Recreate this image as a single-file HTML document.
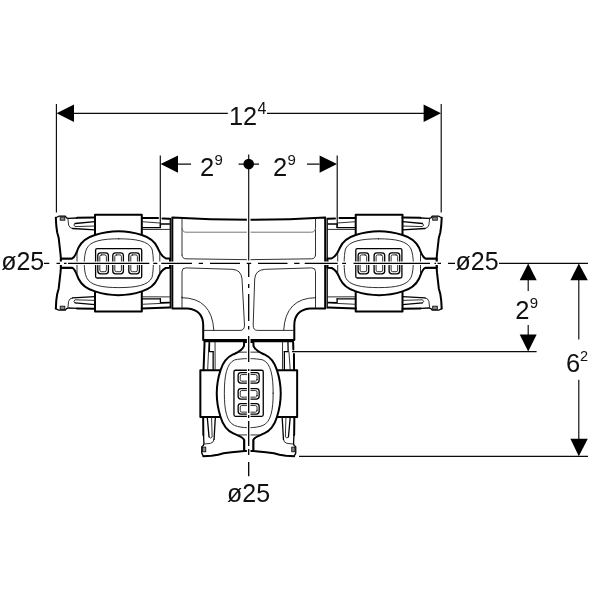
<!DOCTYPE html>
<html><head><meta charset="utf-8">
<style>
html,body{margin:0;padding:0;background:#fff;}
body{width:600px;height:600px;overflow:hidden;}
svg{display:block;filter:grayscale(1);}
text{font-family:"Liberation Sans",sans-serif;fill:#111;}
.t{stroke:#000;stroke-width:2;fill:none;stroke-linejoin:round;stroke-linecap:round}
.m{stroke:#000;stroke-width:1.3;fill:none;stroke-linejoin:round;stroke-linecap:round}
.n{stroke:#1a1a1a;stroke-width:0.9;fill:none;stroke-linejoin:round;stroke-linecap:round}
.g{stroke:#666;stroke-width:0.9;fill:none}
.d{stroke:#0a0a0a;stroke-width:1.15;fill:none}
.c{stroke:#000;stroke-width:1.3;fill:none}
.w{fill:#fff}
</style></head>
<body>
<svg width="600" height="600" viewBox="0 0 600 600">
<rect width="600" height="600" fill="#fff"/>
<defs>
<g id="conn">
  <!-- clamp -->
  <rect class="t w" x="95" y="214.8" width="46.8" height="96.8"/>
  <!-- left wall + top/bottom edges -->
  <path class="t" d="M95,217.6 L77,217.8 M55.8,217.8 L56.3,226.0 L57.2,232.5 L58.7,238.0 L59.6,246.0 L60.5,254.0 L60.9,258.7 L72,258.7"/>
  <path class="m" d="M77.0,218.0 L68.5,218.4 L66.5,217.8 L65.3,216.2 L58.8,216.2 L55.8,217.8"/>
  <path class="t" d="M95,308.8 L77,308.6 M55.8,308.6 L56.3,300.4 L57.2,293.9 L58.7,288.4 L59.6,280.4 L60.5,272.4 L60.9,267.7 L72,267.7"/>
  <path class="m" d="M77.0,308.4 L68.5,308.0 L66.5,308.6 L65.3,310.2 L58.8,310.2 L55.8,308.6"/>
  <path class="t" d="M60.9,258.7 L60.9,267.7"/>
  <rect x="60.2" y="217" width="4.6" height="3.2" fill="#8a8a8a" stroke="#111" stroke-width="0.9"/>
  <rect x="60.2" y="306.2" width="4.6" height="3.2" fill="#8a8a8a" stroke="#111" stroke-width="0.9"/>
  <!-- pockets -->
  <path class="n" d="M67.9,218.6 L68.6,225 Q69.4,228.2 72.5,228.5"/>
  <path class="m" d="M72.5,228.5 L95,229.8"/>
  <path class="n" d="M67.9,307.8 L68.6,301.4 Q69.4,298.2 72.5,297.9"/>
  <path class="m" d="M72.5,297.9 L95,296.6"/>
  <path class="m" d="M95,221.7 L75,223.5"/>
  <path class="n" d="M75,223.5 Q72.6,225 75,226.6 L95,226"/>
  <path class="m" d="M95,304.7 L75,302.9"/>
  <path class="n" d="M75,302.9 Q72.6,301.4 75,299.8 L95,300.4"/>
  <!-- right part -->
  <path class="t" d="M141.8,217.9 L158,218 M162.5,218.6 L169.5,218.8"/>
  <path class="t" d="M141.8,308.4 L169.5,307.4"/>
  <path class="n" d="M141.8,221.7 L160,223"/>
  <path class="m" d="M160.4,223.8 L169.5,224 M160.4,223.8 L160.4,227.6"/>
  <path class="m" d="M141.8,227.6 L160.4,227.6"/>
  <path class="n" d="M142.5,229.5 L169.5,229.4"/>
  <path class="n" d="M141.8,304.3 L169.5,303"/>
  <path class="m" d="M160.4,302.6 L169.5,302.4 M160.4,302.6 L160.4,298.8"/>
  <path class="m" d="M141.8,298.8 L160.4,298.8"/>
  <path class="n" d="M142.5,296.8 L169.5,296.9"/>
  <path class="m" d="M170.3,218.5 L170.3,308"/>
  <!-- oval body -->
  <path class="t w" d="M60.9,258.7 L72,258.7 C75.5,257 76.5,252 78.5,247.7 C81.5,241.5 87.5,237.2 95,235 C103,232.4 111,231.2 118.4,231.2 C126,231.2 134,232.4 141.8,235 C149,237.2 154.7,241.5 157.5,247.5 C159.3,251.5 160.5,256 165.8,258.4 L170,258.6 L170,267.8 L165.8,268 C160.5,270.4 159.3,274.9 157.5,278.9 C154.7,284.9 149,289.2 141.8,291.4 C134,294 126,295.2 118.4,295.2 C111,295.2 103,294 95,291.4 C87.5,289.2 81.5,284.9 78.5,278.7 C76.5,274.4 75.5,269.4 72,267.7 L60.9,267.7 Z"/>
  <path class="n" d="M77,253 L77,273.5 M159.8,253 L159.8,273.5"/>
  <!-- inner oval -->
  <path class="n" d="M118.8,238.8 C136,238.8 148.5,241 152,249 C153.8,256 153.8,270.4 152,277.4 C148.5,285.4 136,287.6 118.8,287.6 C102,287.6 90,285.4 86.5,277.4 C83.5,270.4 83.5,256 86.5,249 C90,241 102,238.8 118.8,238.8 Z"/>
  <!-- window -->
  <rect class="m" x="95.6" y="248.7" width="46.1" height="29.3" rx="1.5" stroke-width="1.6"/>
  <g class="m" stroke-width="1" stroke="#222">
    <rect x="97.8" y="252.8" width="10.6" height="21" rx="2.8"/>
    <rect x="112.8" y="252.8" width="10.6" height="21" rx="2.8"/>
    <rect x="128.8" y="252.8" width="10.6" height="21" rx="2.8"/>
  </g>
  <g class="n" stroke-width="0.7" stroke="#444">
    <rect x="99.8" y="254.9" width="6.6" height="16.8" rx="1.6"/>
    <rect x="114.8" y="254.9" width="6.6" height="16.8" rx="1.6"/>
    <rect x="130.8" y="254.9" width="6.6" height="16.8" rx="1.6"/>
  </g>
</g>
</defs>

<!-- connectors -->
<use href="#conn"/>
<use href="#conn" transform="translate(497.5,0) scale(-1,1)"/>
<use href="#conn" transform="matrix(0 -1 -1 0 511.95 511.95)"/>

<!-- tee body -->
<path class="t w" d="M172.3,217.4 Q248.75,222 325.2,217.4 L325.2,308.5 L310,308.5 Q294.5,310 294.3,325 L294.3,340 L203.2,340 L203.2,325 Q203,310 187.5,308.5 L172.3,308.5 Z"/>
<path class="n" d="M182,218.5 L182,255 M315.5,218.5 L315.5,255 M182,297 L182,308.2 M315.5,297 L315.5,308.2"/>
<path class="g" d="M182,228 Q182.5,232.2 186,232.2 L311.5,232.2 Q315,232.2 315.5,228"/>
<path class="n" d="M182,255 Q182.3,258.8 186,258.8 Q248.75,260.6 311.5,258.8 Q315.2,258.8 315.5,255"/>
<path class="n" d="M182,297.7 L182,271.5 Q182,267.8 186,267.9 L232,269.3 Q241.2,269.6 242,279 L244.5,325 Q244.6,330.4 240,330.4 L203.2,330.4"/>
<path class="n" d="M315.5,297.7 L315.5,271.5 Q315.5,267.8 311.5,267.9 L265.5,269.3 Q255.4,269.6 254.7,279 L253.2,325 Q253,330.4 257.5,330.4 L294.3,330.4"/>
<path class="n" d="M182,297.7 Q212,298 213.8,330"/>
<path class="n" d="M315.5,297.7 Q285.5,298 283.7,330"/>

<!-- centre lines -->
<path d="M52,263.3 L446,263.3 M248.7,172 L248.7,458" stroke="#fff" stroke-width="3.6" fill="none"/>
<path class="d" d="M248.7,154.6 L248.7,260.6"/>
<path class="c" stroke-width="1.2" d="M248.7,264 L248.7,277 M248.7,284 L248.7,288 M248.7,294 L248.7,321 M248.7,326 L248.7,329.5 M248.7,336 L248.7,362 M248.7,369 L248.7,371 M248.7,373 L248.7,413 M248.7,415 L248.7,418 M248.7,421 L248.7,446 M248.7,449 L248.7,455 M248.7,462 L248.7,476.3"/>
<path class="c" d="M44,263.3 L49.3,263.3 M56.5,263.3 L60,263.3 M64,263.3 L66.5,263.3 M68,263.3 L149.3,263.3 M153.3,263.3 L157.3,263.3 M161.3,263.3 L192,263.3 M198.7,263.3 L203,263.3 M210,263.3 L240,263.3 M246.7,263.3 L251.2,263.3 M258,263.3 L287.5,263.3 M294.2,263.3 L299.5,263.3 M304.7,263.3 L337.7,263.3 M342.2,263.3 L346,263.3 M353.5,263.3 L430,263.3 M434.5,263.3 L436,263.3 M437.5,263.3 L441,263.3 M448,263.3 L455,263.3"/>

<!-- dimension lines -->
<g class="d">
<path d="M56.4,104 L56.4,212.5 M441.2,104 L441.2,212.5"/>
<path d="M74,113.3 L227.8,113.3 M267,113.3 L424,113.3"/>
<path d="M160.3,155.5 L160.3,228 M337.2,155.5 L337.2,228"/>
<path d="M178,164.1 L191,164.1 M307,164.1 L319.5,164.1 M238.6,164.1 L259,164.1"/>
<path d="M499,263.3 L588,263.3"/>
<path d="M292,351.6 L536.6,351.6"/>
<path d="M299,456.3 L588,456.3"/>
<path d="M528.2,280 L528.2,291 M528.2,325 L528.2,335"/>
<path d="M578.8,280 L578.8,339.4 M578.8,379.7 L578.8,439"/>
</g>
<g fill="#000">
<path d="M56.6,113.3 L74,104.6 L74,122 Z"/>
<path d="M441,113.3 L423.6,104.6 L423.6,122 Z"/>
<path d="M160.6,164.1 L178,155.4 L178,172.8 Z"/>
<path d="M337,164.1 L319.6,155.4 L319.6,172.8 Z"/>
<circle cx="248.7" cy="164.1" r="5.3"/>
<path d="M528.2,263.4 L519.7,280.3 L536.7,280.3 Z"/>
<path d="M528.2,351.4 L519.7,334.4 L536.7,334.4 Z"/>
<path d="M578.8,263.4 L570.4,280.3 L587.8,280.3 Z"/>
<path d="M578.8,456.2 L570.4,438.8 L587.8,438.8 Z"/>
</g>

<!-- labels -->
<g>
<text x="229" y="125" font-size="25.3">12</text>
<text x="257.4" y="113.8" font-size="16" fill="#555">4</text>
<text x="200" y="176" font-size="25.5">2</text>
<text x="214.4" y="165.2" font-size="15">9</text>
<text x="273" y="176" font-size="25.5">2</text>
<text x="287.4" y="165.2" font-size="15">9</text>
<text x="1.2" y="270" font-size="25">ø25</text>
<text x="455.5" y="270" font-size="25">ø25</text>
<text x="227" y="501.6" font-size="25">ø25</text>
<text x="515.3" y="318.6" font-size="25.5">2</text>
<text x="529.8" y="308.2" font-size="15">9</text>
<text x="566" y="371.5" font-size="25.5">6</text>
<text x="580" y="361" font-size="14.5">2</text>
</g>
</svg>
</body></html>
